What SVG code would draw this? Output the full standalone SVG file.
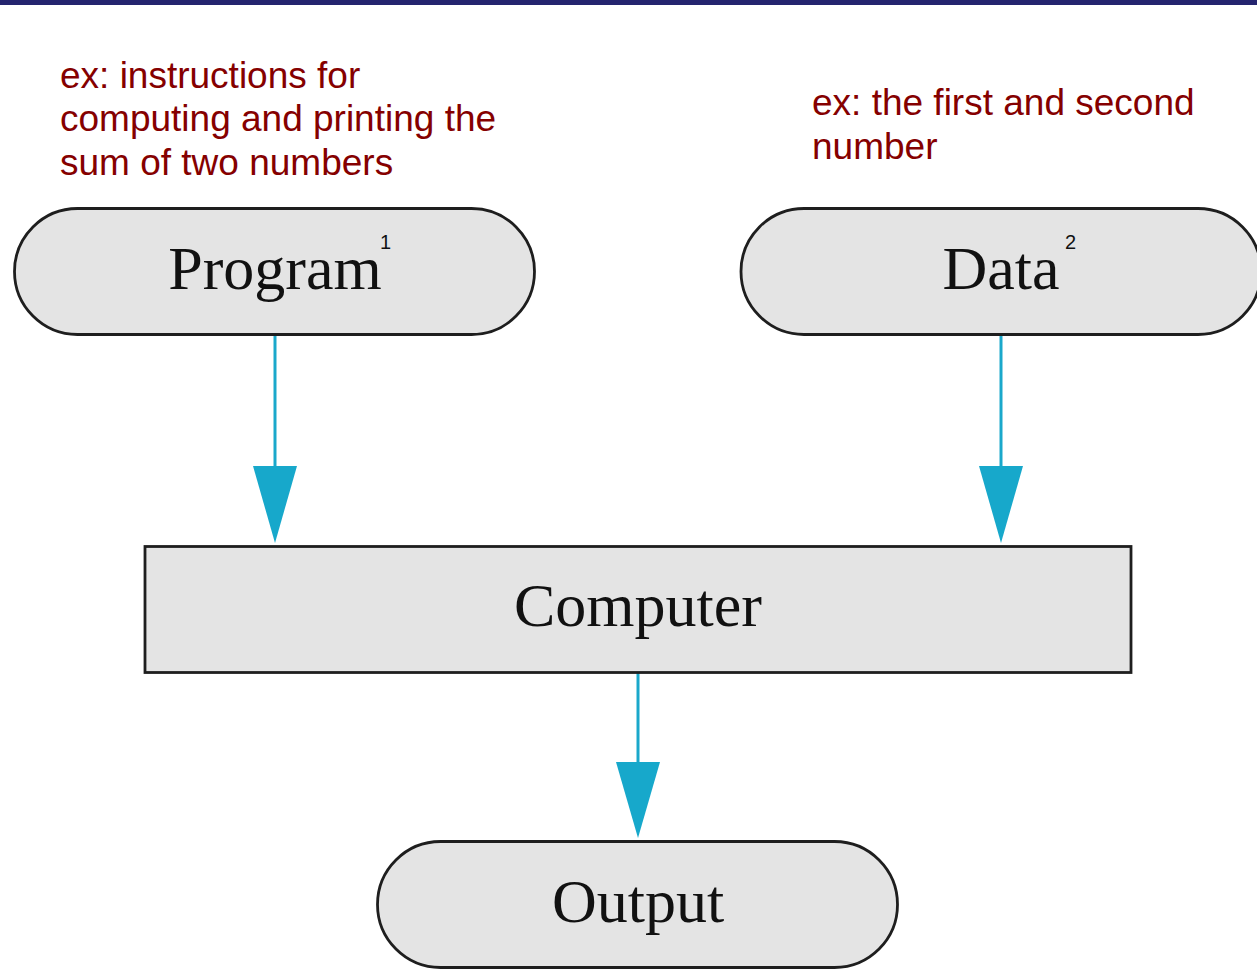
<svg xmlns="http://www.w3.org/2000/svg" width="1257" height="969" viewBox="0 0 1257 969">
<style>
.node{fill:#e4e4e4;stroke:#1e1e1e;stroke-width:2.8}
.lbl{font-family:"Liberation Serif","Times New Roman",serif;font-size:62px;fill:#111;text-anchor:middle}
.sup{font-family:"Liberation Sans",Arial,sans-serif;font-size:20px;fill:#111}
.note{font-family:"Liberation Sans",Arial,sans-serif;font-size:37px;fill:#850000}
.edge{stroke:#1aa8cb;stroke-width:3;fill:none}
.head{fill:#17a8cb}
</style>
<rect x="0" y="0" width="1257" height="5" fill="#24246f"/>
<g id="note-program">
<text class="note" x="60" y="88">ex: instructions for</text>
<text class="note" x="60" y="131">computing and printing the</text>
<text class="note" x="60" y="175">sum of two numbers</text>
</g>
<g id="note-data">
<text class="note" x="812" y="115">ex: the first and second</text>
<text class="note" x="812" y="159">number</text>
</g>
<g id="connectors">
<line class="edge" x1="275" y1="336" x2="275" y2="470"/>
<polygon class="head" points="253,466 297,466 275,543"/>
<line class="edge" x1="1001" y1="336" x2="1001" y2="470"/>
<polygon class="head" points="979,466 1023,466 1001,543"/>
<line class="edge" x1="638" y1="673" x2="638" y2="766"/>
<polygon class="head" points="616,762 660,762 638,838"/>
</g>
<g id="program">
<rect class="node" x="14.5" y="208.5" width="520" height="126" rx="63" ry="63"/>
<text class="lbl" x="275" y="289">Program</text>
<text class="sup" x="380" y="249">1</text>
</g>
<g id="data">
<rect class="node" x="741" y="208.5" width="520" height="126" rx="63" ry="63"/>
<text class="lbl" x="1001" y="289">Data</text>
<text class="sup" x="1065" y="249">2</text>
</g>
<g id="computer">
<rect class="node" x="145" y="546.5" width="986" height="126"/>
<text class="lbl" x="638" y="626">Computer</text>
</g>
<g id="output">
<rect class="node" x="377.5" y="841.5" width="520" height="126" rx="63" ry="63"/>
<text class="lbl" x="638" y="922">Output</text>
</g>
</svg>
